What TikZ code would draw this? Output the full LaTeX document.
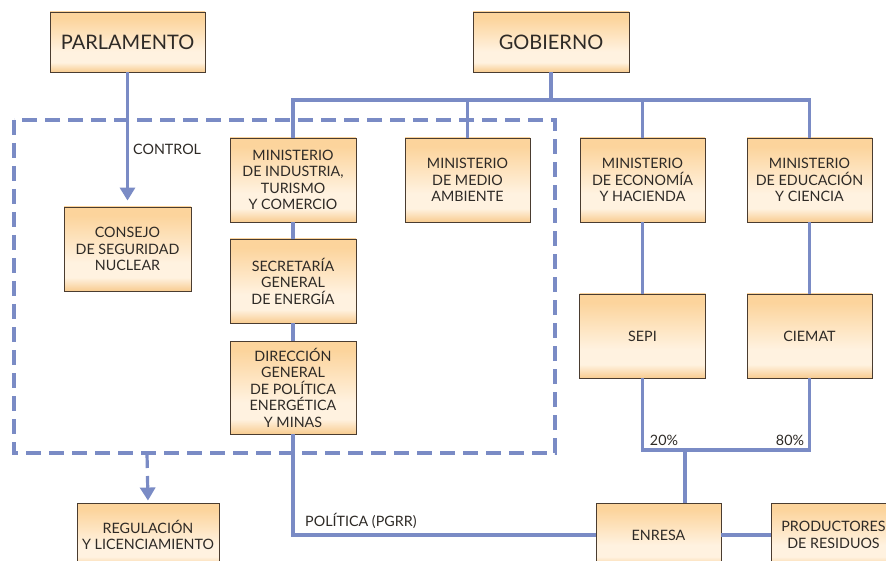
\documentclass[tikz,border=0pt]{standalone}
\usepackage{fontspec}
\setmainfont{Lato}
\usetikzlibrary{arrows.meta}
\definecolor{lineblue}{HTML}{7A8BC5}
\definecolor{boxborder}{HTML}{4A3C30}
\definecolor{txt}{HTML}{2E2A26}
\definecolor{orT}{HTML}{FCD49C}
\definecolor{orB}{HTML}{F8CC90}
\definecolor{pale}{HTML}{FFF2E0}
\pgfdeclareverticalshading{boxshade}{100bp}{color(0bp)=(orB); color(25bp)=(orB); color(33bp)=(pale); color(42bp)=(pale); color(70bp)=(orT); color(100bp)=(orT)}
\tikzset{
  orgbox/.style={draw=boxborder, line width=0.9pt, shading=boxshade, align=center,
    text=txt, inner sep=0pt, font=\fontsize{14.3}{16.5}\selectfont},
  bigbox/.style={orgbox, font=\fontsize{20}{24}\selectfont},
  conn/.style={draw=lineblue, line width=3.2pt},
  dashconn/.style={draw=lineblue, line width=3.2pt, dash pattern=on 15pt off 8pt},
  lbl/.style={text=txt, inner sep=0pt, font=\fontsize{14.3}{16.5}\selectfont},
  tip/.style={-{Triangle[width=15pt,length=13pt]}}
}
\begin{document}
\begin{tikzpicture}[x=1pt,y=-1pt]
\useasboundingbox (0,0) rectangle (886,561);
\clip (0,0) rectangle (886,561);
% nodes
\node[bigbox, minimum width=155pt, minimum height=60pt] (parl) at (127.5,42) {PARLAMENTO};
\node[bigbox, minimum width=156pt, minimum height=60pt] (gob) at (551,42) {GOBIERNO};
\node[orgbox, minimum width=126pt, minimum height=84pt] (mind) at (293,180) {MINISTERIO\\DE INDUSTRIA,\\TURISMO\\Y COMERCIO};
\node[orgbox, minimum width=125pt, minimum height=84pt] (mma) at (467.5,180) {MINISTERIO\\DE MEDIO\\AMBIENTE};
\node[orgbox, minimum width=125pt, minimum height=84pt] (mec) at (642.5,180) {MINISTERIO\\DE ECONOMÍA\\Y HACIENDA};
\node[orgbox, minimum width=125pt, minimum height=84pt] (medu) at (809.5,180) {MINISTERIO\\DE EDUCACIÓN\\Y CIENCIA};
\node[orgbox, minimum width=127pt, minimum height=84pt] (csn) at (127.5,249) {CONSEJO\\DE SEGURIDAD\\NUCLEAR};
\node[orgbox, minimum width=126pt, minimum height=84pt] (sge) at (293,281) {SECRETARÍA\\GENERAL\\DE ENERGÍA};
\node[orgbox, minimum width=126pt, minimum height=93pt] (dgpem) at (293,387.5) {DIRECCIÓN\\GENERAL\\DE POLÍTICA\\ENERGÉTICA\\Y MINAS};
\node[orgbox, minimum width=126pt, minimum height=84pt] (sepi) at (642.5,336) {SEPI};
\node[orgbox, minimum width=125pt, minimum height=84pt] (ciemat) at (809.5,336) {CIEMAT};
\node[orgbox, minimum width=142pt, minimum height=64pt] (reg) at (148,535) {REGULACIÓN\\Y LICENCIAMIENTO};
\node[orgbox, minimum width=125pt, minimum height=64pt] (enresa) at (658.5,535) {ENRESA};
\node[orgbox, minimum width=125pt, minimum height=64pt] (prod) at (833.5,535) {PRODUCTORES\\DE RESIDUOS};
% coordinates
\coordinate (bus) at (551,100);
\coordinate (share) at (685,450);
\coordinate (dbot) at (147,453);
% connectors
\draw[conn] (gob.south) -- (bus);
\draw[conn] (mind.north) |- (medu.north |- bus) -- (medu.north);
\draw[conn] (mma.north) -- (mma.north |- bus);
\draw[conn] (mec.north) -- (mec.north |- bus);
\draw[conn] (mind.south) -- (sge.north);
\draw[conn] (sge.south) -- (dgpem.north);
\draw[conn] (mec.south) -- (sepi.north);
\draw[conn] (medu.south) -- (ciemat.north);
\draw[conn] (sepi.south) |- (share) -| (ciemat.south);
\draw[conn] (share) -- (share |- enresa.north);
\draw[conn] (dgpem.south) |- (enresa.west);
\draw[conn] (enresa.east) -- (prod.west);
\draw[conn, tip, shorten >=6pt] (parl.south) -- (csn.north);
% dashed frame
\draw[dashconn] (14,120) rectangle (555,453);
\draw[dashconn, tip, shorten >=2pt] (dbot) -- (reg.north);
% labels
\node[lbl, anchor=west] (ctl) at (133,149) {CONTROL};
\node[lbl, anchor=west] (pol) at (305,521) {POLÍTICA (PGRR)};
\node[lbl] (p20) at (664,440) {20\%};
\node[lbl] (p80) at (790,440) {80\%};
\end{tikzpicture}
\end{document}
